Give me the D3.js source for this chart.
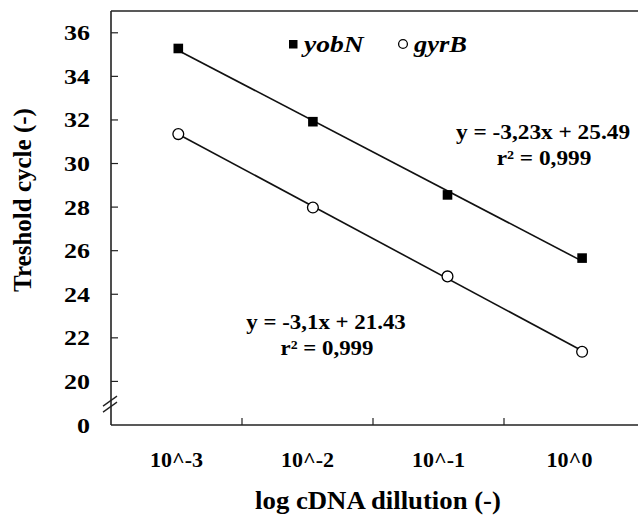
<!DOCTYPE html>
<html><head><meta charset="utf-8">
<script src="https://cdn.jsdelivr.net/npm/d3@7"></script>
<style>body{margin:0;background:#fff}svg{display:block}</style>
</head><body>
<svg id="c" width="638" height="515"></svg>
<script>
const categories = ["10^-3","10^-2","10^-1","10^0"];
const logDilution = [-3,-2,-1,0];
const yobN = [35.28, 31.92, 28.56, 25.66];
const gyrB = [31.35, 27.98, 24.82, 21.36];
const yTicks = [20,22,24,26,28,30,32,34,36];
const seriesNames = ["yobN","gyrB"];
const eq1 = ["y = -3,23x + 25.49","r² = 0,999"];
const eq2 = ["y = -3,1x + 21.43","r² = 0,999"];

const svg = d3.select("#c");
const L = 111, T = 11, B = 425, R = 638;
const y = d3.scaleLinear().domain([18,37]).range([B,T]);
const xb = d3.scaleBand().domain(categories).range([L,635]);
const xl = d3.scaleLinear().domain([-3.5,0.5]).range([L, L+4*134.6]);
const stroke = "#222";
// text placed at (x,y), horizontally stretched by sx
function txt(g, x, yy, size, sx, anchor, str, italic){
  const t = g.append("g").attr("transform",`translate(${x},${yy}) scale(${sx},1)`)
    .append("text").attr("font-family","Liberation Serif").attr("font-weight","bold").attr("fill","#000")
    .attr("font-size",size).attr("text-anchor",anchor||"start").text(str);
  if(italic) t.attr("font-style","italic");
  return t;
}

// frame
svg.append("line").attr("x1",L).attr("x2",R).attr("y1",T).attr("y2",T).attr("stroke",stroke).attr("stroke-width",1.6);
svg.append("line").attr("x1",L).attr("x2",R).attr("y1",B).attr("y2",B).attr("stroke",stroke).attr("stroke-width",1.6);
svg.append("line").attr("x1",L).attr("x2",L).attr("y1",T).attr("y2",B).attr("stroke",stroke).attr("stroke-width",1.6);

// y ticks
const yg = svg.append("g");
yTicks.forEach(v=>{
  yg.append("line").attr("x1",L).attr("x2",L+7).attr("y1",y(v)).attr("y2",y(v)).attr("stroke",stroke).attr("stroke-width",1.2);
  txt(yg, 90, y(v)+7.5, 22, 1.18, "end", v);
});
txt(yg, 90, y(18)+7.5, 22, 1.18, "end", "0");
// break marks
[0,6].forEach(o=>{
  svg.append("line").attr("x1",L-8).attr("y1",y(19.05)+4+o).attr("x2",L+6).attr("y2",y(19.05)-6+o).attr("stroke",stroke).attr("stroke-width",1.3);
});

// x ticks at band boundaries
categories.slice(1).forEach(c=>{
  svg.append("line").attr("x1",xb(c)).attr("x2",xb(c)).attr("y1",B).attr("y2",B-7).attr("stroke",stroke).attr("stroke-width",1.2);
});
categories.forEach(c=>{
  txt(svg, xb(c)+xb.bandwidth()/2, 467, 22, 1.0, "middle", c);
});

// axis titles
txt(svg, 378, 509, 25, 1.07, "middle", "log cDNA dillution (-)");
svg.append("g").style("opacity",0.999).append("text").attr("transform","translate(31,200) rotate(-90)").attr("text-anchor","middle")
  .attr("font-family","Liberation Serif").attr("font-weight","bold").attr("font-size",25).attr("fill","#000").text("Treshold cycle (-)");

// fits
function fit(xs, ys){
  const mx=d3.mean(xs), my=d3.mean(ys);
  const b=d3.sum(xs.map((v,i)=>(v-mx)*(ys[i]-my)))/d3.sum(xs.map(v=>(v-mx)**2));
  return v=>my+b*(v-mx);
}
[yobN,gyrB].forEach(s=>{
  const f=fit(logDilution,s);
  const x0=d3.min(logDilution), x1=d3.max(logDilution);
  svg.append("line").attr("x1",xl(x0)).attr("y1",y(f(x0))).attr("x2",xl(x1)).attr("y2",y(f(x1))).attr("stroke","#111").attr("stroke-width",1.6);
});

// markers
svg.append("g").selectAll("rect").data(logDilution).join("rect")
  .attr("x",(d)=>xl(d)-4.8).attr("y",(d,i)=>y(yobN[i])-4.8).attr("width",9.6).attr("height",9.6).attr("fill","#000");
svg.append("g").selectAll("circle").data(logDilution).join("circle")
  .attr("cx",d=>xl(d)).attr("cy",(d,i)=>y(gyrB[i])).attr("r",5.4).attr("fill","#fff").attr("stroke","#000").attr("stroke-width",1.3);

// legend
svg.append("rect").attr("x",289).attr("y",40).attr("width",8.5).attr("height",8.5).attr("fill","#000");
txt(svg, 304, 52, 23, 1.2, "start", seriesNames[0], true);
svg.append("circle").attr("cx",403).attr("cy",44).attr("r",4.4).attr("fill","#fff").attr("stroke","#000").attr("stroke-width",1.3);
txt(svg, 414, 52, 23, 1.15, "start", seriesNames[1], true);

// equations
txt(svg, 543, 139, 21, 1.11, "middle", eq1[0]);
txt(svg, 544, 165, 21, 1.11, "middle", eq1[1]);
txt(svg, 326, 329, 21, 1.09, "middle", eq2[0]);
txt(svg, 327, 355, 21, 1.09, "middle", eq2[1]);
</script>
</body></html>
